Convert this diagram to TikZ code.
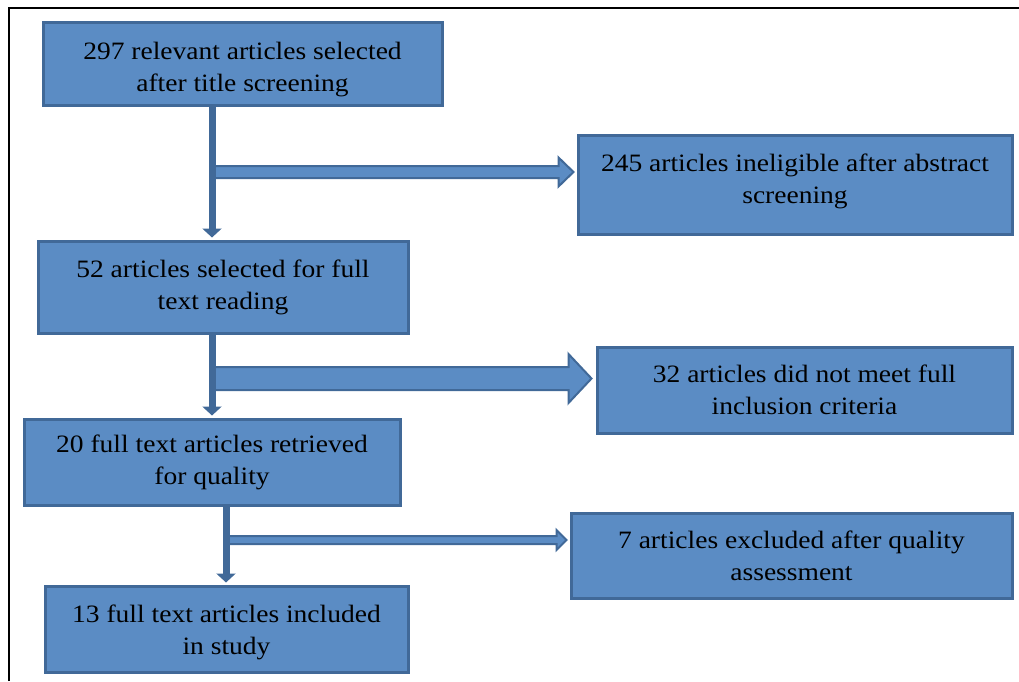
\documentclass[tikz,border=0pt]{standalone}
\usepackage{fontspec}
\setmainfont[FakeStretch=1.1]{Liberation Serif}
\usetikzlibrary{calc,arrows.meta}

\definecolor{boxfill}{RGB}{91,140,196}
\definecolor{boxedge}{RGB}{65,105,152}

\tikzset{
  stage/.style={draw=boxedge, fill=boxfill, line width=3pt, align=center,
    inner sep=0pt, font=\fontsize{25}{32}\selectfont},
  vline/.style={boxedge, line width=7pt, shorten >=2pt,
    -{Triangle[width=19pt,length=9pt]}},
  blockarr/.style={draw=boxedge, fill=boxfill, line width=2pt, line join=miter}
}

% fleche epaisse : depart, arrivee, demi-largeur, demi-tete, longueur tete
\newcommand{\blockarrow}[5]{%
  \filldraw[blockarr] let \p1=#1, \p2=#2 in
    (\x1,\y1+#3pt) -- (\x2-#5pt,\y1+#3pt) -- (\x2-#5pt,\y1+#4pt) -- (\x2,\y1)
    -- (\x2-#5pt,\y1-#4pt) -- (\x2-#5pt,\y1-#3pt) -- (\x1,\y1-#3pt) -- cycle;}

\begin{document}
\begin{tikzpicture}[x=1pt,y=-1pt]
  \useasboundingbox (0,0) rectangle (1019,681);
  % cadre
  \draw[line width=1.5pt] (9,681) -- (9,8) -- (1019,8);

  % etapes
  \node[stage, minimum width=399pt, minimum height=83pt, text height=61pt] (sel297) at (242.5,63.5)
    {297 relevant articles selected\\after title screening};
  \node[stage, minimum width=434pt, minimum height=99pt, text depth=12pt] (inel245) at (795,184.5)
    {245 articles ineligible after abstract\\screening};
  \node[stage, minimum width=370pt, minimum height=92pt] (full52) at (223,287)
    {52 articles selected for full\\text reading};
  \node[stage, minimum width=415pt, minimum height=86pt] (crit32) at (804.5,390)
    {32 articles did not meet full\\inclusion criteria};
  \node[stage, minimum width=376pt, minimum height=86pt] (qual20) at (212,462)
    {20 full text articles retrieved\\for quality};
  \node[stage, minimum width=441pt, minimum height=85pt] (excl7) at (791.5,555.5)
    {7 articles excluded after quality\\assessment};
  \node[stage, minimum width=363pt, minimum height=86pt, text height=57pt] (incl13) at (226.5,629)
    {13 full text articles included\\in study};

  % points de depart des branches
  \coordinate (h1) at (212,172);
  \coordinate (h2) at (212,378.5);
  \coordinate (h3) at (226,540);

  % branches vers la droite
  \blockarrow{(h1)}{($(inel245.west |- h1)+(-3,0)$)}{6}{14.5}{15}
  \blockarrow{(h2)}{($(crit32.west |- h2)+(-4,0)$)}{11.5}{24.5}{23}
  \blockarrow{(h3)}{($(excl7.west |- h3)+(-3,0)$)}{4}{10}{10}

  % fleches verticales
  \draw[vline] (sel297.south -| h1) -- (full52.north -| h1);
  \draw[vline] (full52.south -| h2) -- (qual20.north -| h2);
  \draw[vline] (qual20.south -| h3) -- (incl13.north -| h3);
\end{tikzpicture}
\end{document}
